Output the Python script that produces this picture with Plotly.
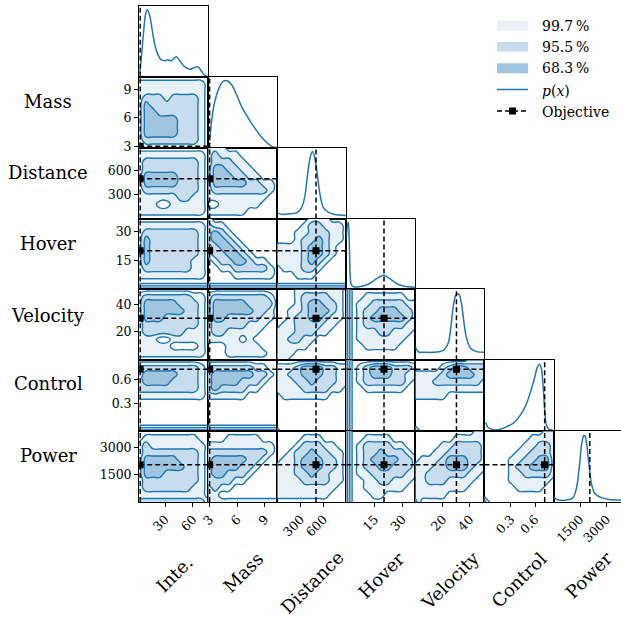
import numpy as np
import plotly.graph_objects as go

# ---------------- data ----------------
labels = ["Inte.", "Mass", "Distance", "Hover", "Velocity", "Control", "Power"]
ranges = [[2, 76.5], [2.85, 10.35], [-10, 900], [-0.4, 37], [-0.5, 50.8], [-0.03, 0.83], [0, 3900]]
objective = [3, 3, 500, 20, 30, 0.72, 2050]
tick_vals = [[30, 60], [3, 6, 9], [300, 600], [15, 30], [20, 40], [0.3, 0.6], [1500, 3000]]
tick_text = [["30", "60"], ["3", "6", "9"], ["300", "600"], ["15", "30"], ["20", "40"], ["0.3", "0.6"], ["1500", "3000"]]

# marginal densities p(x) (relative heights)
inte_x = [2, 2.7, 6.3, 8.8, 10.9, 13.4, 15.9, 18.8, 22.3, 25.9, 29.5, 33, 36.6, 42, 45.6, 51, 56.3, 61.6, 65.2, 68.8, 72.3, 76.6]
inte_p = [0.05, 0.076, 0.6, 0.93, 1.0, 0.91, 0.71, 0.48, 0.33, 0.25, 0.24, 0.25, 0.24, 0.30, 0.24, 0.15, 0.11, 0.136, 0.15, 0.09, 0.025, 0.0]
mass_x = [3.0, 3.38, 3.93, 4.47, 4.91, 5.39, 5.93, 6.48, 7.03, 7.58, 8.12, 8.67, 9.22, 9.77, 10.3]
mass_p = [0.10, 0.56, 0.86, 0.99, 1.0, 0.94, 0.79, 0.61, 0.48, 0.355, 0.25, 0.15, 0.076, 0.015, 0.0]
dist_x = [-10, 67, 155, 243, 309, 353, 397, 427, 454, 485, 515, 550, 594, 660, 748, 900]
dist_p = [0.08, 0.06, 0.07, 0.084, 0.16, 0.33, 0.73, 0.93, 1.0, 0.9, 0.68, 0.38, 0.17, 0.094, 0.06, 0.045]
hover_x = [-0.4, 0.3, 0.7, 1.3, 2.2, 3.5, 8.7, 12.3, 16, 19.9, 23.2, 26.8, 30.4, 37]
hover_p = [0.75, 0.98, 1.0, 0.6, 0.08, 0.04, 0.05, 0.088, 0.16, 0.21, 0.16, 0.088, 0.05, 0.03]
vel_x = [-0.6, 0.37, 2.3, 5.3, 12.8, 20.2, 23.9, 25.9, 27.6, 29.4, 30.8, 32.3, 34.1, 35.8, 37.5, 40.5, 45, 50.7]
vel_p = [0.21, 0.16, 0.12, 0.12, 0.12, 0.15, 0.26, 0.5, 0.8, 0.97, 1.0, 0.97, 0.8, 0.53, 0.33, 0.18, 0.13, 0.12]
ctrl_x = [-0.014, 0.014, 0.088, 0.169, 0.25, 0.33, 0.41, 0.49, 0.554, 0.595, 0.627, 0.655, 0.68, 0.70, 0.72, 0.74, 0.77, 0.82]
ctrl_p = [0.13, 0.055, 0.02, 0.03, 0.07, 0.12, 0.23, 0.40, 0.63, 0.80, 0.95, 1.0, 0.93, 0.68, 0.33, 0.10, 0.03, 0.015]
pow_x = [-20, 76, 249, 730, 1114, 1306, 1460, 1595, 1710, 1787, 1883, 1999, 2133, 2306, 2652, 3133, 3900]
pow_p = [0.09, 0.06, 0.034, 0.03, 0.07, 0.22, 0.53, 0.88, 0.995, 0.985, 0.85, 0.58, 0.29, 0.14, 0.07, 0.04, 0.03]

# credible-region level grids (0 outside, 1: 99.7 %, 2: 95.5 %, 3: 68.3 %), top row first
dens_mass_inte = ["00000000000", "11111111110", "11111111110", "12221222210", "13222222210", "13322222210",
                  "13333322210", "13333322210", "13333322210", "12222222210", "11111111110"]
dens_dist_inte = ["00000000000", "11111111110", "12222222210", "12222222210", "13333322210", "13333322210",
                  "12222222210", "11111122110", "11100111110", "11111111110", "00000000000"]
dens_dist_mass = ["11100000000", "12111000000", "12221100000", "13322110000", "13332211000", "13333322110",
                  "12222222210", "11111111100", "00111111000", "11111100000", "00000000000"]
dens_hover_inte = ["00000000000", "11111111110", "12222222210", "13222222210", "13222222210", "13222222210",
                   "13222222110", "12222222110", "11111111110", "00000000000", "33333333333"]
dens_hover_mass = ["10000000000", "21100000000", "23210000000", "23321000000", "12332100000", "12233210000",
                   "01223321100", "00112222210", "00001111110", "00000000000", "33333333333"]
dens_hover_dist = ["00000111000", "00001221110", "00011222110", "00012232110", "11112332100", "11112332100",
                   "11112321000", "01112210000", "00011100000", "00000000000", "33333333333"]
dens_vel_inte = ["00000000000", "12222222110", "13333322210", "13333332210", "13332222210", "12222222210",
                 "12222221110", "11100111110", "11111000010", "11111111110", "00000000000"]
dens_vel_mass = ["00000000000", "12222222210", "13333322220", "13333332210", "13322222110", "12222211100",
                 "12211111000", "11111010000", "00011111000", "00011111100", "00000000000"]
dens_vel_dist = ["00011111110", "00012222110", "00012332210", "00112333210", "00122332110", "01122221100",
                 "11122211000", "11221100000", "11111000000", "11100000000", "11000000000"]
dens_vel_hover = ["30000000000", "30011111100", "30112222211", "30122333221", "30123333321", "30122222211",
                  "30111221110", "30111111100", "30011111000", "30000000000", "30000000000"]
dens_ctrl_inte = ["00000000000", "22222222210", "23333322210", "23333222210", "22222222210", "11111111110",
                  "00000000000", "00000000000", "00000000000", "00000000000", "33333333333"]
dens_ctrl_mass = ["00000000000", "22222221100", "23333332210", "23333222100", "23222211000", "11111100000",
                  "00000000000", "00000000000", "00000000000", "00000000000", "33333333333"]
dens_ctrl_dist = ["00000000000", "11123332211", "11223332211", "11122322211", "11112222110", "01111111000",
                  "00000000000", "00000000000", "00000000000", "00000000000", "10000000000"]
dens_ctrl_hover = ["30000000000", "30123332221", "30123332211", "30122222210", "30011111100", "30000000000",
                   "30000000000", "30000000000", "30000000000", "30000000000", "30000000000"]
dens_ctrl_vel = ["00000000111", "00001233222", "11112333322", "11122222221", "11111111111", "11111000000",
                 "00000000000", "00000000000", "00000000000", "00000000000", "20000000000"]
dens_pow_inte = ["00000000000", "01111111100", "12111111110", "12222222210", "13333322210", "13333332210",
                 "13332222210", "12222222210", "12222222110", "11111111110", "22222222221"]
dens_pow_mass = ["00000000000", "00011111000", "11111111110", "22222222210", "23333322100", "23333221000",
                 "23322210000", "22221100000", "12110000000", "11000000000", "11111111111"]
dens_pow_dist = ["00000000000", "00001110000", "00012221100", "00122322110", "01123332210", "11123332210",
                 "11122322110", "11112222110", "11111111100", "11111111000", "00000000000"]
dens_pow_hover = ["30000000000", "30011110000", "30122221100", "30122322210", "30123333221", "30122332221",
                  "30112222211", "30011221110", "30011111100", "30001100000", "30000000000"]
dens_pow_vel = ["00000000011", "00000011111", "00001122221", "00011222221", "01112333221", "11122333211",
                "11222222110", "11222111100", "11111111000", "11111000000", "20000000000"]
dens_pow_ctrl = ["00000000011", "00000001111", "00000011221", "00000112221", "00001122331", "00001223331",
                 "00001122221", "00001111110", "00000111100", "00000000000", "20000000000"]

marginals = [(inte_x, inte_p), (mass_x, mass_p), (dist_x, dist_p), (hover_x, hover_p),
             (vel_x, vel_p), (ctrl_x, ctrl_p), (pow_x, pow_p)]
grids = {
    (1, 0): dens_mass_inte,
    (2, 0): dens_dist_inte, (2, 1): dens_dist_mass,
    (3, 0): dens_hover_inte, (3, 1): dens_hover_mass, (3, 2): dens_hover_dist,
    (4, 0): dens_vel_inte, (4, 1): dens_vel_mass, (4, 2): dens_vel_dist, (4, 3): dens_vel_hover,
    (5, 0): dens_ctrl_inte, (5, 1): dens_ctrl_mass, (5, 2): dens_ctrl_dist, (5, 3): dens_ctrl_hover,
    (5, 4): dens_ctrl_vel,
    (6, 0): dens_pow_inte, (6, 1): dens_pow_mass, (6, 2): dens_pow_dist, (6, 3): dens_pow_hover,
    (6, 4): dens_pow_vel, (6, 5): dens_pow_ctrl,
}

# ---------------- styling / layout ----------------
W, H = 621, 618
C0 = "#1f77b4"
FILL = ["rgba(255,255,255,0)", "rgb(233,241,248)", "rgb(199,221,237)", "rgb(160,197,223)"]
FONT = "DejaVu Serif"
col_left = [139.2 + 69.05 * c for c in range(8)]
row_top = [5.8 + 70.9 * r for r in range(8)]
DIAG_TOP = 1.06

fill_scale = [[0, FILL[0]], [1 / 6, FILL[0]], [1 / 6, FILL[1]], [0.5, FILL[1]],
              [0.5, FILL[2]], [5 / 6, FILL[2]], [5 / 6, FILL[3]], [1, FILL[3]]]

fig = go.Figure()
layout = {}
dash_style = dict(color="black", width=1.5, dash="5px,3px")

k = 0
for r in range(7):
    for c in range(r + 1):
        k += 1
        sx = "" if k == 1 else str(k)
        xname, yname = "x" + sx, "y" + sx
        x0 = col_left[c] / W
        x1 = min(col_left[c + 1], W) / W
        xr = list(ranges[c])
        if col_left[c + 1] > W:
            frac = (W - col_left[c]) / (col_left[c + 1] - col_left[c])
            xr = [ranges[c][0], ranges[c][0] + (ranges[c][1] - ranges[c][0]) * frac]
        yr = list(ranges[r]) if c < r else [0, DIAG_TOP]
        bottom = r == 6
        left = c == 0 and r > 0
        layout["xaxis" + sx] = dict(
            domain=[x0, x1], range=xr, anchor=yname, showline=True, mirror=True, automargin=False,
            linecolor="black", linewidth=1.3, showgrid=False, zeroline=False,
            ticks="outside" if bottom else "", ticklen=4, tickwidth=1, tickcolor="black",
            tickvals=tick_vals[c] if bottom else [], ticktext=tick_text[c] if bottom else [],
            showticklabels=bottom, tickangle=-45,
            tickfont=dict(family=FONT, size=12.5, color="black"))
        layout["yaxis" + sx] = dict(
            domain=[1 - row_top[r + 1] / H, 1 - row_top[r] / H], range=yr, anchor=xname,
            showline=True, mirror=(c != 6), linecolor="black", linewidth=1.3, automargin=False,
            showgrid=False, zeroline=False,
            ticks="outside" if left else "", ticklen=4, tickwidth=1, tickcolor="black",
            tickvals=tick_vals[r] if left else [], ticktext=tick_text[r] if left else [],
            showticklabels=left, tickfont=dict(family=FONT, size=12.5, color="black"))

        if c < r:
            g = grids[(r, c)]
            z = [[int(ch) for ch in row] for row in reversed(g)]
            gx = np.linspace(ranges[c][0], ranges[c][1], len(g[0]))
            gy = np.linspace(ranges[r][0], ranges[r][1], len(g))
            fig.add_trace(go.Contour(
                x=gx, y=gy, z=z, xaxis=xname, yaxis=yname,
                contours=dict(start=0.5, end=2.5, size=1, coloring="fill"),
                colorscale=fill_scale, showscale=False, hoverinfo="skip",
                line=dict(color=C0, width=1.4, smoothing=1.3)))
            fig.add_trace(go.Scatter(x=[objective[c], objective[c]], y=ranges[r], mode="lines",
                                     line=dash_style, xaxis=xname, yaxis=yname, showlegend=False,
                                     hoverinfo="skip"))
            fig.add_trace(go.Scatter(x=ranges[c], y=[objective[r], objective[r]], mode="lines",
                                     line=dash_style, xaxis=xname, yaxis=yname, showlegend=False,
                                     hoverinfo="skip"))
            fig.add_trace(go.Scatter(x=[objective[c]], y=[objective[r]], mode="markers",
                                     marker=dict(symbol="square", size=7, color="black"),
                                     xaxis=xname, yaxis=yname, showlegend=False, hoverinfo="skip"))
        else:
            mx, mp = marginals[c]
            fig.add_trace(go.Scatter(x=mx, y=mp, mode="lines", line=dict(color=C0, width=1.5,
                                     shape="spline", smoothing=0.8),
                                     xaxis=xname, yaxis=yname, showlegend=False, hoverinfo="skip"))
            fig.add_trace(go.Scatter(x=[objective[c], objective[c]], y=[0, DIAG_TOP], mode="lines",
                                     line=dash_style, xaxis=xname, yaxis=yname, showlegend=False,
                                     hoverinfo="skip"))

# ---------------- axis titles ----------------
annotations = []
left_label_y = [101, 172, 243, 315, 384, 455]
for i, name in enumerate(labels[1:]):
    annotations.append(dict(text=name, x=48 / W, y=1 - left_label_y[i] / H, xref="paper", yref="paper",
                            showarrow=False, xanchor="center", yanchor="middle",
                            font=dict(family=FONT, size=18, color="black")))
bottom_label_y = [574, 572, 582, 575, 580, 579, 575]
for c, name in enumerate(labels):
    cx = (col_left[c] + col_left[c + 1]) / 2
    annotations.append(dict(text=name, x=cx / W, y=1 - bottom_label_y[c] / H, xref="paper", yref="paper",
                            showarrow=False, xanchor="center", yanchor="middle", textangle=-45,
                            font=dict(family=FONT, size=18, color="black")))

# ---------------- legend (drawn manually) ----------------
legend_labels = ["99.7\u2009%", "95.5\u2009%", "68.3\u2009%", "<i>p</i>(<i>x</i>)", "Objective"]
shapes = []
lx0, lx1 = 497 / W, 528 / W
rect_rows = [(20.7, 30.7), (42.0, 51.7), (63.3, 73.3)]
for i, (ya, yb) in enumerate(rect_rows):
    shapes.append(dict(type="rect", xref="paper", yref="paper", x0=lx0, x1=lx1,
                       y0=1 - yb / H, y1=1 - ya / H, fillcolor=FILL[i + 1], line=dict(width=0)))
shapes.append(dict(type="line", xref="paper", yref="paper", x0=lx0, x1=lx1,
                   y0=1 - 89.5 / H, y1=1 - 89.5 / H, line=dict(color=C0, width=1.5)))
shapes.append(dict(type="line", xref="paper", yref="paper", x0=lx0, x1=lx1,
                   y0=1 - 111 / H, y1=1 - 111 / H, line=dict(color="black", width=1.5, dash="5px,3px")))
shapes.append(dict(type="rect", xref="paper", yref="paper", x0=509 / W, x1=516 / W,
                   y0=1 - 114.5 / H, y1=1 - 107.5 / H, fillcolor="black", line=dict(width=0)))
legend_y = [25.8, 47.0, 68.5, 91.0, 111.8]
for t, yy in zip(legend_labels, legend_y):
    annotations.append(dict(text=t, x=540 / W, y=1 - yy / H, xref="paper", yref="paper",
                            showarrow=False, xanchor="left", yanchor="middle",
                            font=dict(family=FONT, size=14, color="black")))

fig.update_layout(
    width=W, height=H, margin=dict(l=0, r=0, t=0, b=0, autoexpand=False),
    paper_bgcolor="white", plot_bgcolor="white", showlegend=False,
    annotations=annotations, shapes=shapes, **layout)

fig.write_html("out.html", config={"displayModeBar": False},
               post_script="document.body.style.margin='0px';document.body.style.overflow='hidden';")
